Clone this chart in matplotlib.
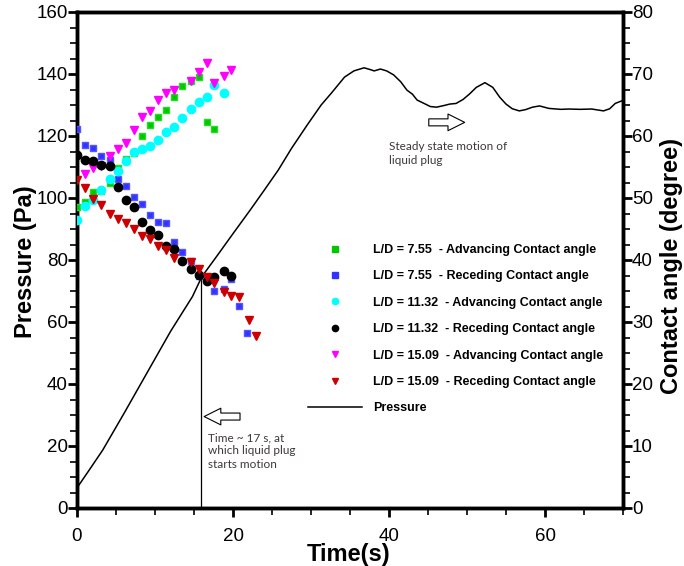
import matplotlib
matplotlib.use("Agg")
import matplotlib.pyplot as plt
from matplotlib.lines import Line2D
from matplotlib.ticker import MultipleLocator

# ---------------- data ----------------
t_green = [0, 1.02, 2.07, 3.14, 4.19, 5.25, 6.26, 7.28, 8.30, 9.31, 10.38, 11.44, 12.49, 13.51, 14.57, 15.59, 16.61, 17.62]
ang_green = [48.6, 49.4, 50.9, 51.2, 52.4, 54.9, 56.3, 57.2, 60.0, 61.8, 63.1, 64.2, 66.3, 68.0, 68.9, 69.5, 62.3, 61.1]

t_blue = [0, 1.02, 2.07, 3.14, 4.19, 5.25, 6.26, 7.28, 8.30, 9.31, 10.38, 11.44, 12.49, 13.51, 14.57, 15.59, 16.61, 17.62, 18.8, 19.8, 20.8, 21.8]
ang_blue = [61.1, 58.5, 58.0, 56.7, 56.1, 53.1, 51.9, 50.2, 49.0, 47.3, 46.2, 46.0, 42.9, 41.3, 39.8, 37.4, 36.9, 35.0, 35.3, 37.0, 32.6, 28.3]

t_cyan = [0, 1.02, 2.07, 3.14, 4.19, 5.25, 6.26, 7.28, 8.30, 9.31, 10.38, 11.44, 12.49, 13.51, 14.57, 15.59, 16.61, 17.62, 18.8]
ang_cyan = [46.4, 48.7, 49.6, 51.3, 53.1, 54.3, 56.0, 57.4, 57.9, 58.4, 59.4, 60.6, 61.4, 62.9, 64.4, 65.5, 66.3, 68.2, 67.0]

t_black = [0, 1.02, 2.07, 3.14, 4.19, 5.25, 6.26, 7.28, 8.30, 9.31, 10.38, 11.44, 12.49, 13.51, 14.57, 15.59, 16.61, 17.62, 18.8, 19.8]
ang_black = [57.0, 56.1, 56.0, 55.4, 55.2, 51.8, 49.7, 48.5, 46.1, 44.9, 44.0, 42.2, 41.7, 39.9, 38.6, 37.6, 36.6, 37.3, 38.3, 37.4]

t_magenta = [1.02, 2.07, 3.14, 4.19, 5.25, 6.26, 7.28, 8.30, 9.31, 10.38, 11.44, 12.49, 14.57, 15.59, 16.61, 17.62, 18.8, 19.8]
ang_magenta = [53.9, 54.8, 55.2, 56.7, 57.9, 58.8, 60.9, 63.0, 64.1, 65.8, 66.9, 67.4, 68.9, 70.3, 71.7, 68.6, 69.7, 70.6]

t_red = [0, 1.02, 2.07, 3.14, 4.19, 5.25, 6.26, 7.28, 8.30, 9.31, 10.38, 11.44, 12.49, 14.57, 15.59, 16.61, 17.62, 18.8, 19.8, 20.8, 22.0, 23.0]
ang_red = [52.9, 51.6, 49.8, 48.9, 47.4, 46.6, 46.0, 45.0, 43.8, 43.4, 42.3, 41.6, 40.4, 39.6, 38.5, 37.2, 36.3, 34.9, 34.2, 34.0, 30.4, 27.7]

t_pressure = [0, 1.5, 3.3, 6, 9, 12, 14.8, 16, 18, 20, 22.2, 24, 25.8, 27.5, 29.5, 31.3, 32.6, 34.3, 35.5, 36.8,
              37.5, 38.1, 38.9, 39.7, 40.6, 41.5, 42.3, 43, 43.6, 44.5, 45.3, 46.1, 47, 47.8, 48.6, 49.5,
              50.3, 51.2, 52.3, 53.3, 54.2, 55.0, 55.8, 56.7, 57.5, 58.4, 59.3, 60.5, 62, 63.1, 64.5, 66,
              67.5, 68.3, 69, 70]
pressure = [6.5, 12, 18.7, 30.4, 43.7, 57, 68.2, 74.6, 81.5, 88.5, 96.1, 102.5, 109, 116, 123.5, 130, 133.8, 139, 141, 142,
            141.5, 141, 141.6, 141, 139.7, 137.5, 134.8, 133.5, 131.6, 130.5, 129.5, 129.3, 129.8, 130.3, 130.5, 131.8,
            133.5, 135.7, 137.2, 135.7, 132.5, 130.3, 128.8, 128.1, 128.5, 129.3, 129.7, 128.9, 128.6, 128.7, 128.6, 128.7,
            128.1, 128.8, 130.5, 131.5]

labels = ["L/D = 7.55  - Advancing Contact angle",
          "L/D = 7.55  - Receding Contact angle",
          "L/D = 11.32  - Advancing Contact angle",
          "L/D = 11.32  - Receding Contact angle",
          "L/D = 15.09  - Advancing Contact angle",
          "L/D = 15.09  - Receding Contact angle",
          "Pressure"]

t_start = 15.9      # motion start marker
p_start = 73.5

# ---------------- figure ----------------
plt.rcParams['font.family'] = ['Liberation Sans', 'DejaVu Sans']
W, H = 684, 566
fig = plt.figure(figsize=(W / 100, H / 100), dpi=100)
L, R, T, B = 77, 623, 12, 508
ax = fig.add_axes([L / W, 1 - B / H, (R - L) / W, (B - T) / H])
ax2 = ax.twinx()

ax.set_xlim(0, 70)
ax.set_ylim(0, 160)
ax2.set_ylim(0, 80)

# pressure curve
ax.plot(t_pressure, pressure, color='black', lw=1.1, zorder=3)
ax.plot([t_start, t_start], [0, p_start], color='black', lw=0.9, zorder=3)

ax2.plot(t_green, ang_green, 's', color='#00c800', ms=5, mec='#22dd22', zorder=4)
ax2.plot(t_blue, ang_blue, 's', color='#3333ff', ms=5, mec='#5555ff', zorder=4)
ax2.plot(t_cyan, ang_cyan, 'o', color='#00ffff', ms=6, zorder=4)
ax2.plot(t_black, ang_black, 'o', color='black', ms=6, zorder=5)
ax2.plot(t_magenta, ang_magenta, 'v', color='#ff00ff', ms=6, zorder=4)
ax2.plot(t_red, ang_red, 'v', color='#cc0000', ms=6, zorder=5)

# spines and ticks
for a in (ax, ax2):
    for s in a.spines.values():
        s.set_linewidth(2.5)
ax.xaxis.set_major_locator(MultipleLocator(20))
ax.xaxis.set_minor_locator(MultipleLocator(5))
ax.yaxis.set_major_locator(MultipleLocator(20))
ax.yaxis.set_minor_locator(MultipleLocator(5))
ax2.yaxis.set_major_locator(MultipleLocator(10))
ax2.yaxis.set_minor_locator(MultipleLocator(2.5))
ax.tick_params(axis='both', which='major', direction='out', length=6.5, width=2, labelsize=13.5, pad=0)
ax.tick_params(axis='both', which='minor', direction='out', length=5, width=1.2)
ax.tick_params(axis='x', which='major', pad=8)
ax.tick_params(top=False, which='both')
ax2.tick_params(axis='y', which='major', direction='out', length=6.5, width=2, labelsize=13.5, pad=0)
ax2.tick_params(axis='y', which='minor', direction='out', length=5, width=1.2)

ax.set_xlabel('Time(s)', fontsize=17, fontweight='bold')
ax.set_ylabel('Pressure (Pa)', fontsize=17, fontweight='bold')
ax2.set_ylabel('Contact angle (degree)', fontsize=17, fontweight='bold')
ax.xaxis.set_label_coords((349 - L) / (R - L), (B - 555) / (B - T))
ax.yaxis.set_label_coords((26 - L) / (R - L), (B - 262) / (B - T))
ax2.yaxis.set_label_coords((672 - L) / (R - L), (B - 266) / (B - T))
ax.xaxis.label.set_va('center')
ax.yaxis.label.set_va('center')
ax2.yaxis.label.set_va('center')

# legend
handles = [
    Line2D([], [], ls='none', marker='s', color='#00c800', ms=4),
    Line2D([], [], ls='none', marker='s', color='#3333ff', ms=4),
    Line2D([], [], ls='none', marker='o', color='#00ffff', ms=4.5),
    Line2D([], [], ls='none', marker='o', color='black', ms=4.5),
    Line2D([], [], ls='none', marker='v', color='#ff00ff', ms=4.5),
    Line2D([], [], ls='none', marker='v', color='#cc0000', ms=4.5),
    Line2D([], [], color='black', lw=1.1),
]
leg = ax2.legend(handles, labels, loc='upper left', bbox_to_anchor=(308 / W, 1 - 244 / H),
                 bbox_transform=fig.transFigure, frameon=False, borderpad=0, borderaxespad=0,
                 handlelength=4.3, handletextpad=0.9, labelspacing=1.15,
                 prop={'weight': 'bold', 'size': 9})

# annotations
ann_color = '#3e3838'
arrow_style = 'simple,head_length=1.0,head_width=1.0,tail_width=0.42'
ax.annotate('', xy=(16.3, 29.5), xytext=(20.9, 29.5),
            arrowprops=dict(arrowstyle=arrow_style, fc='white', ec='black', lw=0.8,
                            shrinkA=0, shrinkB=0, mutation_scale=12))
ax.annotate('', xy=(49.7, 124.4), xytext=(45.1, 124.4),
            arrowprops=dict(arrowstyle=arrow_style, fc='white', ec='black', lw=0.8,
                            shrinkA=0, shrinkB=0, mutation_scale=12))
ax.text(16.8, 24.5, 'Time ~ 17 s, at\nwhich liquid plug\nstarts motion', fontsize=8.5,
        family=['Lato', 'DejaVu Sans'], color=ann_color, va='top', ha='left', linespacing=1.25)
ax.text(40.0, 118.3, 'Steady state motion of\nliquid plug', fontsize=8.5,
        family=['Lato', 'DejaVu Sans'], color=ann_color, va='top', ha='left', linespacing=1.25)

fig.savefig('out.png', dpi=100)
